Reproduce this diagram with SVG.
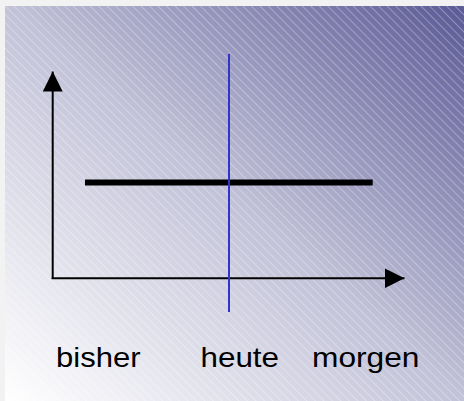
<svg xmlns="http://www.w3.org/2000/svg" width="464" height="401" viewBox="0 0 464 401">
<style>
.lbl{font-family:"Liberation Sans",Arial,sans-serif;font-size:28px;fill:#000}
.axis{stroke:#000;stroke-width:2;fill:none}
</style>
<defs>
<linearGradient id="bg" x1="0" y1="1" x2="1" y2="0">
<stop offset="0" stop-color="#ffffff"/>
<stop offset="0.5" stop-color="#c2c2d8"/>
<stop offset="1" stop-color="#5a5a96"/>
</linearGradient>
<pattern id="hatch" width="6" height="6" patternUnits="userSpaceOnUse" patternTransform="rotate(45)">
<line x1="0" y1="0.5" x2="6" y2="0.5" stroke="#ffffff" stroke-opacity="0.3" stroke-width="1"/>
</pattern>
<marker id="arr" viewBox="0 0 20 20" refX="20" refY="10" markerWidth="20" markerHeight="20" markerUnits="userSpaceOnUse" orient="auto">
<path d="M0,0 L20,10 L0,20 Z" fill="#000"/>
</marker>
</defs>
<rect x="0" y="0" width="464" height="401" fill="#f2f2f2"/>
<rect x="5" y="6" width="459" height="395" fill="url(#bg)"/>
<rect x="5" y="6" width="459" height="395" fill="url(#hatch)"/>
<g id="connectors">
<line id="y-axis" class="axis" x1="52.7" y1="279" x2="52.7" y2="71.5" marker-end="url(#arr)"/>
<line id="x-axis" class="axis" x1="51.7" y1="278.3" x2="404.5" y2="278.3" marker-end="url(#arr)"/>
<line id="level" x1="85" y1="182.5" x2="372.7" y2="182.5" stroke="#000" stroke-width="6"/>
<line id="today" x1="229" y1="54" x2="229" y2="312" stroke="#3333cc" stroke-width="2"/>
</g>
<g id="label-bisher"><text class="lbl" x="56" y="366.7" textLength="84.5" lengthAdjust="spacingAndGlyphs">bisher</text></g>
<g id="label-heute"><text class="lbl" x="200.5" y="366.7" textLength="78.5" lengthAdjust="spacingAndGlyphs">heute</text></g>
<g id="label-morgen"><text class="lbl" x="312" y="366.7" textLength="107.5" lengthAdjust="spacingAndGlyphs">morgen</text></g>
</svg>
